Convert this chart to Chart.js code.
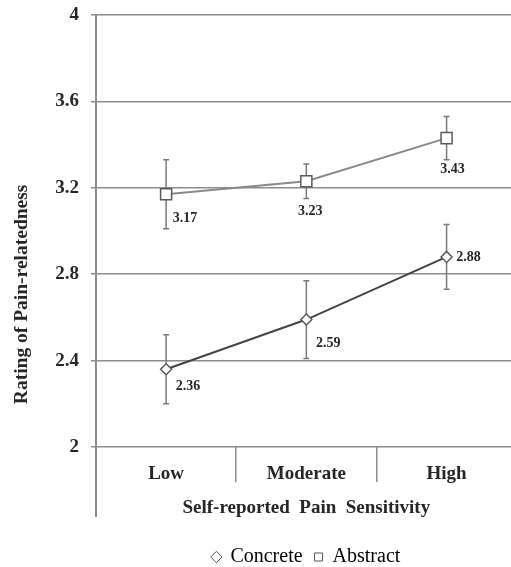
<!DOCTYPE html>
<html>
<head>
<meta charset="utf-8">
<script src="https://cdn.jsdelivr.net/npm/chart.js@4.4.1/dist/chart.umd.min.js"></script>
<style>
  html, body { margin: 0; padding: 0; background: #fff; overflow: hidden; }
  #wrap { width: 526px; height: 577px; position: relative; }
  canvas { display: block; }
</style>
</head>
<body>
<div id="wrap"><canvas id="c" width="526" height="577"></canvas></div>
<script>
// ---- data ----
const categories = ['Low', 'Moderate', 'High'];
const concrete = [2.36, 2.59, 2.88];
const abstractVals = [3.17, 3.23, 3.43];
const concreteErr = [0.16, 0.18, 0.15];
const abstractErr = [0.16, 0.08, 0.10];
const yTicks = [2, 2.4, 2.8, 3.2, 3.6, 4];
const seriesNames = ['Concrete', 'Abstract'];

// label offsets (style, not data)
const labelOffsets = [
  [[22, 17], [22, 24], [22, 0]],
  [[19, 24], [4, 30], [6, 31]]
];

const SERIF = '"Liberation Serif", "Times New Roman", serif';
const TEXT = '#262626';
const GRID = '#8c8c8c';

const errorBars = {
  id: 'errorBars',
  beforeDatasetsDraw(chart) {
    const ctx = chart.ctx;
    const y = chart.scales.y;
    const errs = [concreteErr, abstractErr];
    ctx.save();
    ctx.strokeStyle = '#7a7a7a';
    ctx.lineWidth = 1.5;
    chart.data.datasets.forEach((ds, di) => {
      const meta = chart.getDatasetMeta(di);
      meta.data.forEach((pt, i) => {
        const v = ds.data[i], e = errs[di][i];
        const yt = y.getPixelForValue(v + e), yb = y.getPixelForValue(v - e);
        ctx.beginPath();
        ctx.moveTo(pt.x, yt); ctx.lineTo(pt.x, yb);
        ctx.moveTo(pt.x - 3, yt); ctx.lineTo(pt.x + 3, yt);
        ctx.moveTo(pt.x - 3, yb); ctx.lineTo(pt.x + 3, yb);
        ctx.stroke();
      });
    });
    // extension of the vertical axis line below the plot
    const ca = chart.chartArea;
    ctx.strokeStyle = GRID;
    ctx.lineWidth = 2;
    ctx.beginPath();
    ctx.moveTo(ca.left, ca.top);
    ctx.lineTo(ca.left, ca.bottom + 70);
    ctx.stroke();
    ctx.restore();
  }
};

const valueLabels = {
  id: 'valueLabels',
  afterDatasetsDraw(chart) {
    const ctx = chart.ctx;
    ctx.save();
    ctx.font = 'bold 14px ' + SERIF;
    ctx.fillStyle = TEXT;
    ctx.textAlign = 'center';
    ctx.textBaseline = 'middle';
    chart.data.datasets.forEach((ds, di) => {
      const meta = chart.getDatasetMeta(di);
      meta.data.forEach((pt, i) => {
        const [dx, dy] = labelOffsets[di][i];
        ctx.fillText(ds.data[i].toFixed(2), pt.x + dx, pt.y + dy);
      });
    });
    ctx.restore();
  }
};

new Chart(document.getElementById('c'), {
  type: 'line',
  data: {
    labels: categories,
    datasets: [
      {
        label: seriesNames[0],
        data: concrete,
        borderColor: '#444444',
        backgroundColor: '#ffffff',
        borderWidth: 2,
        pointStyle: 'rectRot',
        pointRadius: 5.5,
        pointBackgroundColor: '#ffffff',
        pointBorderColor: '#5a5a5a',
        pointBorderWidth: 1.5,
        tension: 0
      },
      {
        label: seriesNames[1],
        data: abstractVals,
        borderColor: '#8a8a8a',
        backgroundColor: '#ffffff',
        borderWidth: 2,
        pointStyle: 'rect',
        pointRadius: 7.8,
        pointBackgroundColor: '#ffffff',
        pointBorderColor: '#5a5a5a',
        pointBorderWidth: 1.5,
        tension: 0
      }
    ]
  },
  options: {
    responsive: false,
    animation: false,
    events: [],
    layout: { padding: { top: 15, right: 1, left: 0, bottom: 0 } },
    plugins: {
      tooltip: { enabled: false },
      legend: {
        position: 'bottom',
        fullSize: false,
        labels: {
          usePointStyle: true,
          boxWidth: 8,
          boxHeight: 8,
          padding: 12,
          color: TEXT,
          font: { family: SERIF, size: 20 },
          generateLabels(chart) {
            return chart.data.datasets.map((ds, i) => ({
              text: ds.label,
              fillStyle: '#ffffff',
              strokeStyle: '#555555',
              lineWidth: 1,
              pointStyle: ds.pointStyle,
              datasetIndex: i,
              hidden: false
            }));
          }
        }
      }
    },
    scales: {
      x: {
        type: 'category',
        offset: true,
        afterFit(s) { s.height = 88; s.paddingLeft = 0; s.paddingRight = 0; },
        border: { display: false },
        grid: {
          offset: true,
          drawOnChartArea: false,
          drawTicks: true,
          tickLength: 35,
          color: GRID,
          lineWidth: 1.5
        },
        ticks: {
          padding: -19,
          color: TEXT,
          font: { family: SERIF, size: 19, weight: 'bold' }
        },
        title: {
          display: true,
          text: 'Self-reported  Pain  Sensitivity',
          color: TEXT,
          font: { family: SERIF, size: 19, weight: 'bold' },
          padding: { top: 0, bottom: 16 }
        }
      },
      y: {
        min: 2,
        max: 4,
        afterFit(s) { s.width = 96; s.paddingTop = 0; s.paddingBottom = 0; },
        afterBuildTicks(s) { s.ticks = yTicks.map(v => ({ value: v })); },
        border: { display: true, color: GRID, width: 2 },
        grid: {
          color: GRID,
          lineWidth: 1.5,
          drawTicks: true,
          tickLength: 5
        },
        ticks: {
          padding: 12,
          color: TEXT,
          font: { family: SERIF, size: 19, weight: 'bold' },
          callback: (v) => String(Math.round(v * 10) / 10)
        },
        title: {
          display: true,
          text: 'Rating of Pain-relatedness\u2003\u2003\u2003\u2003\u2003\u2003\u2002',
          color: TEXT,
          font: { family: SERIF, size: 19.5, weight: 'bold' },
          padding: { top: 10, bottom: 4 }
        }
      }
    }
  },
  plugins: [errorBars, valueLabels]
});
</script>
</body>
</html>
